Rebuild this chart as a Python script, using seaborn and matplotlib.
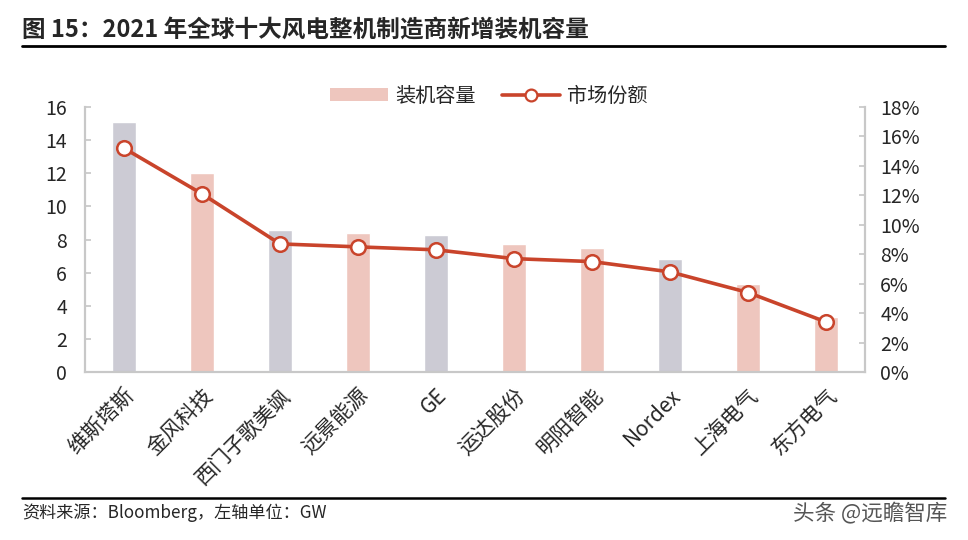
import matplotlib
matplotlib.use('Agg')
import matplotlib.pyplot as plt
import seaborn as sns
import pandas as pd
from matplotlib.lines import Line2D
from matplotlib.patches import Patch
from matplotlib.ticker import FuncFormatter, MultipleLocator

# data
makers = ['维斯塔斯', '金风科技', '西门子歌美飒', '远景能源', 'GE',
          '运达股份', '明阳智能', 'Nordex', '上海电气', '东方电气']
capacity_gw = [15.1, 12.0, 8.6, 8.4, 8.3, 7.7, 7.5, 6.8, 5.3, 3.3]
share_pct = [15.2, 12.1, 8.7, 8.5, 8.3, 7.7, 7.5, 6.8, 5.4, 3.4]
foreign = ['维斯塔斯', '西门子歌美飒', 'GE', 'Nordex']

grey = '#CCCBD4'
pink = '#EEC6BE'
red = '#C9442B'
axis_col = '#C8C8C8'

df = pd.DataFrame({'maker': makers, 'cap': capacity_gw, 'share': share_pct})
palette = {m: (grey if m in foreign else pink) for m in makers}

sns.set_theme(style='white')
plt.rcParams['font.family'] = ['Noto Sans CJK SC', 'DejaVu Sans']

fig = plt.figure(figsize=(9.68, 5.4), dpi=100)
ax = fig.add_axes([85 / 968, 168 / 540, 780 / 968, 265 / 540])

sns.barplot(data=df, x='maker', y='cap', hue='maker', palette=palette,
            width=0.32, legend=False, ax=ax, saturation=1)
ax.set_ylim(0, 16)
ax.set_xlim(-0.5, 9.5)
ax.yaxis.set_major_locator(MultipleLocator(2))
ax.set_xlabel('')
ax.set_ylabel('')
ax.tick_params(axis='y', labelsize=14, length=4, color=axis_col, direction='in', pad=13)
ax.tick_params(axis='x', labelsize=15, length=0, pad=9)
ax.set_xticks(range(len(makers)))
ax.set_xticklabels(makers, rotation=45, ha='right', rotation_mode='anchor')
ax.set_xticks([i + 0.5 for i in range(len(makers) - 1)], minor=True)
ax.tick_params(axis='x', which='minor', length=4, color=axis_col, direction='in')
ax.spines['top'].set_visible(False)
for s in ['left', 'bottom', 'right']:
    ax.spines[s].set_color(axis_col)
    ax.spines[s].set_linewidth(1.5)

ax2 = ax.twinx()
sns.lineplot(x=list(range(len(makers))), y=share_pct, ax=ax2, color=red,
             linewidth=2.6, marker='o', markersize=10.5, markerfacecolor='white',
             markeredgecolor=red, markeredgewidth=1.8)
ax2.set_ylim(0, 18)
ax2.yaxis.set_major_locator(MultipleLocator(2))
ax2.yaxis.set_major_formatter(FuncFormatter(lambda v, p: f'{v:.0f}%'))
ax2.tick_params(axis='y', labelsize=14, length=4, color=axis_col, direction='in', pad=11)
ax2.spines['top'].set_visible(False)
for s in ['left', 'bottom', 'right']:
    ax2.spines[s].set_color(axis_col)
    ax2.spines[s].set_linewidth(1.5)

handles = [Patch(facecolor=pink, edgecolor='none'),
           Line2D([0], [0], color=red, linewidth=2.6, marker='o', markersize=8.5,
                  markerfacecolor='white', markeredgecolor=red, markeredgewidth=1.6)]
fig.legend(handles, ['装机容量', '市场份额'], loc='center', bbox_to_anchor=(0.505, 0.822),
           ncol=2, frameon=False, fontsize=14.5, handlelength=2.9, handleheight=0.55,
           columnspacing=1.3, handletextpad=0.35)

fig.text(22 / 968, 1 - 30 / 540, '图 15：2021 年全球十大风电整机制造商新增装机容量',
         fontsize=17, fontweight='bold', va='center', ha='left')
fig.add_artist(Line2D([22 / 968, 945 / 968], [1 - 46 / 540] * 2, color='black', linewidth=2))
fig.add_artist(Line2D([22 / 968, 945 / 968], [1 - 498 / 540] * 2, color='black', linewidth=1.8))
fig.text(22 / 968, 1 - 513 / 540, '资料来源：Bloomberg，左轴单位：GW',
         fontsize=12.3, va='center', ha='left')
fig.text(947 / 968, 1 - 514 / 540, '头条 @远瞻智库', fontsize=15.5, va='center', ha='right',
         color='#555555')

fig.savefig('out.png', dpi=100)
